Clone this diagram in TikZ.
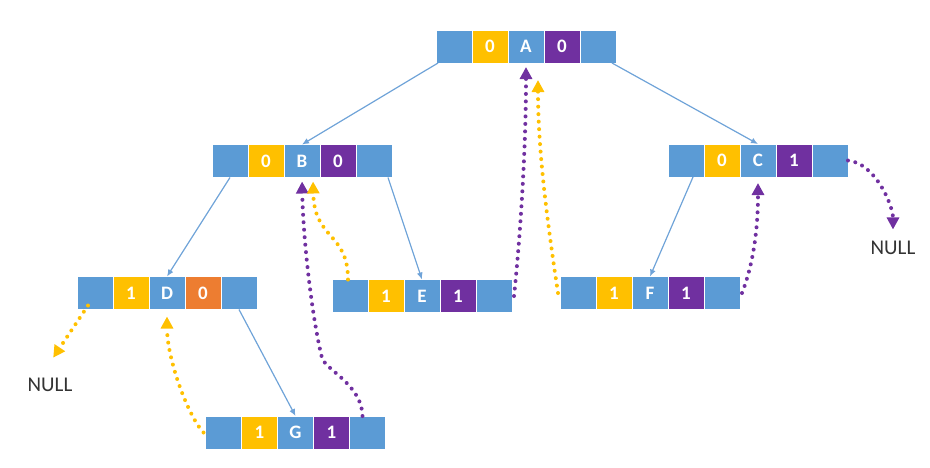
\documentclass[tikz,border=0pt]{standalone}
\usepackage{fontspec}
\setmainfont{Carlito}
\usetikzlibrary{arrows.meta,positioning}
\definecolor{cellblue}{HTML}{5B9BD5}
\definecolor{tagyellow}{HTML}{FFC000}
\definecolor{tagpurple}{HTML}{7030A0}
\definecolor{tagorange}{HTML}{ED7D31}
\definecolor{edgeblue}{HTML}{6FA3D8}
\definecolor{nulltext}{HTML}{333333}

\tikzset{
  cell/.style={draw=white,line width=0.8pt,minimum width=36pt,minimum height=33pt,
    inner sep=0pt,outer sep=0pt,text=white,font=\fontsize{19}{21}\selectfont\bfseries},
  child/.style={edgeblue,line width=1.2pt,-{Latex[length=7pt,width=6pt]}},
  thread/.style={line width=4pt,line cap=round,dash pattern=on 0pt off 7.5pt,
    -{Triangle[length=12pt,width=12pt]}},
  nulltag/.style={text=nulltext,inner sep=2pt,font=\fontsize{21}{23}\selectfont},
}

% threaded node: name, x, y, left tag, data, right tag, right tag colour
\newcommand{\thnode}[7]{%
  \node[cell,fill=cellblue] (#1d) at (#2,#3) {#5};
  \node[cell,fill=tagyellow,left=0pt of #1d] (#1lt) {#4};
  \node[cell,fill=cellblue,left=0pt of #1lt] (#1l) {};
  \node[cell,fill=#7,right=0pt of #1d] (#1rt) {#6};
  \node[cell,fill=cellblue,right=0pt of #1rt] (#1r) {};
}

\begin{document}
\begin{tikzpicture}[x=1pt,y=-1pt]
  \useasboundingbox (0,0) rectangle (930,467);

  \thnode{A}{526}{46.5}{0}{A}{0}{tagpurple}
  \thnode{B}{302}{161}{0}{B}{0}{tagpurple}
  \thnode{C}{758}{160.5}{0}{C}{1}{tagpurple}
  \thnode{D}{167}{293}{1}{D}{0}{tagorange}
  \thnode{E}{422}{296}{1}{E}{1}{tagpurple}
  \thnode{F}{650}{293}{1}{F}{1}{tagpurple}
  \thnode{G}{295.5}{432.5}{1}{G}{1}{tagpurple}

  \node[nulltag] (nullD) at (50,385) {NULL};
  \node[nulltag] (nullC) at (893,247.5) {NULL};

  % child links
  \draw[child] ([xshift=2pt]Al.south west) -- (Bd.north);
  \draw[child] ([xshift=-4pt]Ar.south east) -- (Cd.north);
  \draw[child] (Bl.south) -- (Dd.north);
  \draw[child] ([xshift=-4pt]Br.south east) -- (Ed.north);
  \draw[child] ([xshift=7pt]Cl.south) -- (Fd.north);
  \draw[child] (Dr.south) -- (Gd.north);

  % threads
  \draw[thread,tagyellow,shorten >=22pt] ([xshift=-7pt,yshift=4pt]Dl.south) -- ([xshift=-9pt]nullD.north);
  \draw[thread,tagpurple,shorten >=9pt] (Cr.east) .. controls (875,163) and (893,205) .. (nullC.north);
  \draw[thread,tagyellow,shorten >=7pt] ([xshift=-2pt]Gl.west) .. controls (188,416) and (167,359) .. (Dd.south);
  \draw[thread,tagpurple,shorten >=4pt] ([xshift=-5pt]Gr.north) .. controls (362,385) and (326,370) .. (322,358)
    .. controls (312,318) and (303,238) .. (Bd.south);
  \draw[thread,tagyellow,shorten >=4pt] ([xshift=-2pt]El.north) .. controls (348,232) and (314,240) .. ([xshift=11pt]Bd.south);
  \draw[thread,tagpurple,shorten >=4pt] ([xshift=2pt]Er.east) .. controls (520,240) and (526,150) .. (Ad.south);
  \draw[thread,tagyellow,shorten >=17pt] ([xshift=-2pt]Fl.west) .. controls (547,220) and (538,150) .. ([xshift=12pt]Ad.south);
  \draw[thread,tagpurple,shorten >=6pt] ([xshift=2pt]Fr.east) .. controls (753,265) and (758,230) .. (Cd.south);
\end{tikzpicture}
\end{document}
